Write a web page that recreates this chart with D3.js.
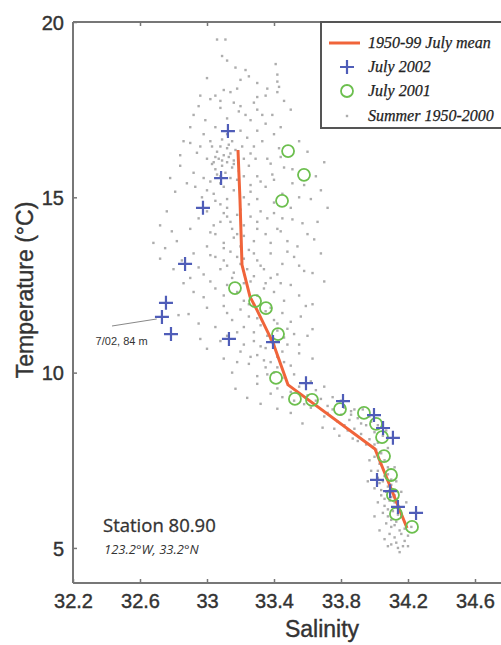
<!DOCTYPE html>
<html>
<head>
<meta charset="utf-8">
<title>Station 80.90 T-S</title>
<script src="https://cdn.jsdelivr.net/npm/d3@7"></script>
<style>
  body { margin: 0; background: #fff; }
  svg { display: block; }
</style>
</head>
<body>
<div id="chart"></div>
<script>
// 1950-99 July mean profile
var meanSal  = [33.185, 33.197, 33.209, 33.257, 33.298, 33.394, 33.484, 34.003, 34.194];
var meanTemp = [16.35, 14.92, 13.07, 12.16, 11.79, 10.85, 9.65, 7.82, 5.57];

// July 2002 casts (crosses)
var jul02Sal  = [33.125, 33.084, 32.976, 32.869, 32.755, 32.731, 32.785, 33.131, 33.394,
                 33.591, 33.812, 33.997, 34.051, 34.110, 34.015, 34.093, 34.140, 34.248];
var jul02Temp = [16.89, 15.55, 14.70, 13.10, 11.99, 11.59, 11.10, 10.96, 10.87,
                 9.70, 9.19, 8.79, 8.42, 8.14, 6.94, 6.62, 6.17, 6.00];

// July 2001 casts (circles)
var jul01Sal  = [33.484, 33.579, 33.448, 33.167, 33.287, 33.352, 33.424, 33.412, 33.525, 33.627,
                 33.794, 33.937, 34.009, 34.045, 34.057, 34.099, 34.110, 34.128, 34.224];
var jul01Temp = [16.32, 15.64, 14.90, 12.41, 12.04, 11.84, 11.10, 9.85, 9.25, 9.22,
                 8.96, 8.85, 8.54, 8.16, 7.62, 7.08, 6.51, 5.97, 5.60];

// summer 1950-2000 bottles [salinity, temperature]
var summer = [
  [33.06,19.5],[33.11,19.5],[33.09,19.03],[33.17,18.7],[33.23,18.63],[33.41,18.8],[33.42,18.5],
  [33.42,18.3],[33.43,18.15],[33.42,18.0],[33.30,18.26],[33.18,18.1],[33.10,18.06],[33.14,18.0],
  [33.05,17.9],[33.02,17.8],[32.95,17.6],[32.92,17.35],[32.90,17.0],[33.30,17.86],[33.35,17.9],
  [33.30,17.5],[33.39,17.35],[33.44,17.0],[33.23,17.35],[33.2,17.6],[33.16,17.7],[33.26,17.2],
  [33.35,17.1],[33.08,17.55],[33.12,17.25],[32.99,17.2],[33.2,18.35],[33.5,17.5],
  [33.12,18.9],[33.25,18.45],[33.0,18.4],[33.36,18.1],[33.08,17.75],[33.28,17.7],[33.46,17.75],
  [32.96,17.9],[33.19,17.45],[33.33,17.35],
  [33.24,16.7],[33.02,16.6],[33.08,16.45],[33.12,16.4],[33.06,16.3],[33.1,16.2],[33.14,16.25],
  [33.07,16.1],[33.12,16.0],[33.09,15.9],[33.15,15.85],[33.05,15.8],[33.11,15.7],[33.13,16.5],
  [33.17,16.35],[33.0,16.1],[32.84,16.2],[32.84,15.9],[32.94,16.27],[33.29,16.1],[33.36,16.1],
  [33.38,15.96],[33.30,15.6],[33.39,15.65],[33.51,15.8],[33.60,16.3],[32.81,15.16],[32.93,15.3],
  [33.26,15.16],[33.51,15.4],[33.2,16.9],[33.28,16.45],[33.33,16.6],[32.98,16.8],[33.05,17.0],
  [32.9,16.55],[33.18,15.5],[33.02,15.45],[33.1,15.3],[33.22,15.0],[33.35,15.3],[33.45,15.1],
  [32.97,15.0],[33.04,16.0],[33.16,16.05],[33.08,15.6],[33.19,15.75],[33.25,15.9],[33.43,16.4],
  [32.92,15.7],[33.0,15.2],[33.32,15.45],[33.55,15.0],[33.65,15.6],[33.46,15.85],
  [33.03,16.45],[33.09,16.65],[33.15,16.6],[33.21,16.45],[33.05,16.15],[33.13,16.15],[33.09,16.05],
  [33.03,15.95],[33.16,15.95],[33.06,15.65],[33.14,15.55],[33.22,15.6],[32.98,15.55],[33.08,15.4],
  [33.16,15.2],[33.26,15.35],[33.04,15.1],[33.12,14.95],[33.3,14.95],[33.4,15.5],[32.88,15.4],
  [32.86,16.6],[33.26,16.25],[33.22,16.1],[33.44,16.15],[33.4,16.8],[33.3,16.9],[33.12,16.8],
  [32.96,16.45],[33.55,16.6],[33.68,15.2],[33.72,14.7],[33.62,14.95],[33.7,16.0],[33.58,15.35],
  [32.76,14.6],[32.72,14.2],[32.68,13.7],[32.72,13.25],[32.78,15.55],
  [33.57,14.26],[33.64,13.8],[33.54,13.6],[33.63,12.84],[32.79,14.03],[32.75,13.55],[32.80,12.95],
  [32.86,12.55],[33.05,14.9],[33.12,14.7],[33.0,14.6],[33.18,14.5],[33.25,14.8],[33.32,14.6],
  [33.4,14.85],[33.45,14.4],[33.3,14.3],[33.08,14.3],[32.95,14.4],[32.9,14.1],[33.02,14.0],
  [33.15,14.1],[33.22,13.9],[33.35,13.95],[33.42,14.1],[33.48,13.75],[33.1,13.7],[33.0,13.6],
  [32.92,13.4],[33.05,13.3],[33.14,13.45],[33.25,13.5],[33.3,13.2],[33.38,13.4],[33.45,13.1],
  [33.2,13.1],[33.08,12.95],[32.98,12.8],[33.15,12.7],[33.28,12.75],[33.35,12.55],[33.42,12.8],
  [33.5,12.5],[32.92,12.3],[33.05,12.4],[33.18,12.3],[33.3,12.2],[33.4,12.3],[33.46,12.05],
  [33.55,12.2],[33.1,14.55],[33.14,14.3],[33.3,14.1],[33.36,14.4],[33.51,14.37],[33.44,14.03],
  [33.16,13.85],[33.05,13.95],[33.18,13.3],[33.12,13.05],[33.24,12.95],[33.34,12.95],[33.02,12.6],
  [33.12,12.5],[33.22,12.55],[32.85,13.2],[33.58,12.9],[33.52,13.3],[33.6,13.95],[32.95,13.0],
  [33.08,14.8],[33.2,14.65],[33.26,14.45],[33.12,14.45],[33.04,14.2],[33.22,14.2],[33.18,13.95],
  [33.28,13.75],[33.1,13.55],[33.2,13.6],[33.28,13.4],[33.02,13.35],[33.1,13.2],[33.22,13.25],
  [33.32,13.05],[33.16,12.85],[33.26,12.6],[33.38,12.7],[33.1,12.2],[33.22,12.05],[33.34,12.4],
  [33.44,12.55],[32.98,12.15],[32.9,12.7],[32.82,13.75],[33.38,13.7],[33.48,13.45],[33.55,13.05],
  [33.4,14.55],[33.5,14.7],[33.68,13.4],[33.7,12.6],[33.66,14.3],
  [33.63,11.95],[33.59,11.9],[33.63,11.24],[33.6,11.05],[33.63,10.4],[32.89,11.67],[32.83,11.64],
  [32.96,10.96],[33.0,10.68],[33.1,11.9],[33.2,11.8],[33.25,11.6],[33.35,11.75],[33.45,11.7],
  [33.5,11.45],[33.15,11.5],[33.05,11.3],[33.22,11.3],[33.32,11.35],[33.42,11.2],[33.52,11.1],
  [33.12,11.05],[33.28,10.9],[33.38,10.95],[33.48,10.8],[33.2,10.6],[33.3,10.5],[33.42,10.45],
  [33.55,10.55],[33.1,10.4],[33.25,10.25],[33.35,10.15],[33.5,10.2],[33.15,10.0],[33.3,9.9],
  [33.45,9.85],[33.0,11.85],[32.95,11.4],[33.28,11.95],[33.4,11.5],[33.18,11.15],[33.35,10.7],
  [33.45,10.6],[33.22,10.8],[33.56,11.6],[33.4,10.0],[33.38,10.3],
  [33.25,11.95],[33.3,11.55],[33.38,11.85],[33.42,11.4],[33.28,11.15],[33.36,11.05],[33.46,11.0],
  [33.32,10.75],[33.4,10.8],[33.26,10.45],[33.34,10.35],[33.46,10.3],[33.42,10.15],[33.36,9.95],
  [33.52,9.95],[33.55,10.8],[33.48,11.25],[33.12,11.7],[33.08,10.9],[33.18,10.3],
  [33.42,9.55],[33.5,9.45],[33.55,9.6],[33.6,9.35],[33.65,9.5],[33.52,9.2],[33.58,9.1],
  [33.68,9.25],[33.72,9.05],[33.45,9.3],[33.38,9.4],[33.32,9.11],[33.24,9.28],[33.17,9.54],
  [33.30,9.68],[33.42,8.97],[33.5,8.85],[33.57,8.55],[33.69,8.43],[33.79,8.2],[33.87,8.12],
  [33.75,8.95],[33.8,8.8],[33.85,8.65],[33.9,8.7],[33.95,8.5],[33.88,8.4],[33.92,8.25],
  [33.97,8.1],[34.0,8.3],[33.82,9.0],[33.78,8.6],[33.95,7.95],[34.02,8.0],[33.9,8.05],
  [34.05,8.2],[33.98,8.6],[33.62,9.0],[33.7,8.75],[33.86,8.9],[33.93,8.95],[33.84,8.35],
  [33.62,9.75],[33.7,9.6],[33.75,9.3],[33.65,9.2],[33.72,8.85],[33.8,9.2],[33.86,8.8],[33.92,8.55],
  [33.88,8.95],[33.97,8.75],[33.82,8.5],[33.76,8.4],[34.02,8.5],[34.07,8.35],[34.0,7.95],
  [34.0,7.6],[34.03,7.4],[34.06,7.5],[33.98,7.2],[34.02,7.0],[34.05,6.9],[34.08,7.1],[34.0,6.7],
  [34.04,6.5],[34.07,6.6],[34.1,6.8],[34.02,6.3],[34.06,6.2],[34.09,6.35],[34.12,6.5],[34.05,6.0],
  [34.08,5.9],[34.11,6.05],[34.14,6.2],[34.07,5.7],[34.1,5.6],[34.13,5.75],[34.16,5.9],[34.09,5.4],
  [34.12,5.3],[34.15,5.5],[34.18,5.2],[34.1,5.1],[34.14,5.0],[34.15,4.88],[34.2,5.35],[34.22,5.6],
  [33.96,6.9],[33.97,7.5],[34.12,7.3],[34.13,6.9],[34.0,5.9],[34.03,5.5],[34.06,5.25],[34.01,7.8],
  [34.04,7.7],[34.08,7.85],[34.16,6.6],[34.19,6.3],[34.1,5.8],[34.17,5.05],[34.08,5.05],
  [34.04,7.45],[34.08,7.3],[34.02,7.2],[34.06,7.05],[34.1,6.95],[34.03,6.85],[34.08,6.75],
  [34.04,6.65],[34.1,6.45],[34.06,6.4],[34.12,6.3],[34.08,6.1],[34.14,5.95],[34.12,5.65],
  [34.16,5.4],[34.13,5.15],[34.18,5.55],[34.2,5.05]
];

var xTicks = [32.2, 32.6, 33, 33.4, 33.8, 34.2, 34.6];
var yTicks = [5, 10, 15, 20];

var W = 501, H = 645;
var svg = d3.select("#chart").append("svg").attr("width", W).attr("height", H);

var x = d3.scaleLinear().domain([32.2, 34.8]).range([73, 508.5]);
var y = d3.scaleLinear().domain([4, 20]).range([583, 22]);

var axisCol = "#777", textCol = "#333";
var sans = "'Liberation Sans', Arial, sans-serif";

// summer dots
svg.append("g").selectAll("rect").data(summer).enter().append("rect")
  .attr("x", function(d) { return x(d[0]) - 1.2; })
  .attr("y", function(d) { return y(d[1]) - 1.2; })
  .attr("width", 2.4).attr("height", 2.4)
  .attr("fill", "#adadad");

// mean line
var line = d3.line().x(function(d) { return x(d[0]); }).y(function(d) { return y(d[1]); });
svg.append("path")
  .datum(meanSal.map(function(s, i) { return [s, meanTemp[i]]; }))
  .attr("d", line)
  .attr("fill", "none").attr("stroke", "#f0643a").attr("stroke-width", 3)
  .attr("stroke-linejoin", "round");

// July 2001 circles
svg.append("g").selectAll("circle").data(jul01Sal).enter().append("circle")
  .attr("cx", function(d) { return x(d); })
  .attr("cy", function(d, i) { return y(jul01Temp[i]); })
  .attr("r", 6)
  .attr("fill", "none").attr("stroke", "#6cbf4e").attr("stroke-width", 1.8);

// July 2002 crosses
var cross = "M-7,0H7M0,-7V7";
svg.append("g").selectAll("path").data(jul02Sal).enter().append("path")
  .attr("transform", function(d, i) { return "translate(" + x(d) + "," + y(jul02Temp[i]) + ")"; })
  .attr("d", cross)
  .attr("stroke", "#4f5db8").attr("stroke-width", 2.2);

// axes
var xAxis = svg.append("g").attr("transform", "translate(0,583)")
  .call(d3.axisBottom(x).tickValues(xTicks).tickSize(-4).tickPadding(15)
    .tickFormat(d3.format("")));
var xTop = svg.append("g").attr("transform", "translate(0,22)")
  .call(d3.axisTop(x).tickValues(xTicks.slice(1)).tickSize(-4).tickFormat(""));
var yAxis = svg.append("g").attr("transform", "translate(73,0)")
  .call(d3.axisLeft(y).tickValues(yTicks).tickSize(-4).tickPadding(9));

[xAxis, xTop, yAxis].forEach(function(g) {
  g.select(".domain").attr("stroke", axisCol).attr("stroke-width", 2);
  g.selectAll(".tick line").attr("stroke", axisCol).attr("stroke-width", 1.5);
  g.selectAll("text").attr("fill", textCol).attr("stroke", textCol).attr("stroke-width", 0.4)
    .style("font-family", sans).style("font-size", "20px");
});
yAxis.select(".domain").attr("d", "M0,583V22");
xAxis.select(".domain").attr("d", "M73,0H" + W);
xTop.select(".domain").attr("d", "M73,0H" + W);
xAxis.selectAll("text").attr("dy", "0.5em");
yAxis.selectAll("text").attr("dy", "0.36em");

// axis titles
svg.append("text").attr("x", 322).attr("y", 637).attr("text-anchor", "middle")
  .attr("fill", textCol).attr("stroke", textCol).attr("stroke-width", 0.4)
  .style("font-family", sans).style("font-size", "23px").text("Salinity");
svg.append("text").attr("transform", "translate(33,290) rotate(-90)").attr("text-anchor", "middle")
  .attr("fill", textCol).attr("stroke", textCol).attr("stroke-width", 0.4)
  .style("font-family", sans).style("font-size", "23px").text("Temperature (°C)");

// annotation for the 84 m cast
svg.append("line")
  .attr("x1", x(32.433)).attr("y1", y(11.33))
  .attr("x2", x(32.70)).attr("y2", y(11.53))
  .attr("stroke", "#888").attr("stroke-width", 1);
svg.append("text").attr("x", x(32.335)).attr("y", y(10.78))
  .attr("fill", "#333").style("font-family", sans)
  .style("font-size", "11px").text("7/02, 84 m");

// station label
svg.append("text").attr("x", 103).attr("y", 532)
  .attr("fill", "#333").attr("stroke", "#333").attr("stroke-width", 0.3)
  .style("font-family", "'Open Sans', sans-serif")
  .style("font-size", "18.5px").text("Station 80.90");
svg.append("text").attr("x", 104).attr("y", 554)
  .attr("fill", "#333").style("font-family", "'Open Sans', sans-serif")
  .style("font-style", "italic").style("font-size", "13px").text("123.2°W, 33.2°N");

// legend
var lg = svg.append("g");
lg.append("rect").attr("x", 321).attr("y", 22).attr("width", 200).attr("height", 106)
  .attr("fill", "#fff").attr("stroke", "#555").attr("stroke-width", 2);
var legFont = function(t) {
  return t.attr("fill", "#222").attr("stroke", "#222").attr("stroke-width", 0.25)
    .style("font-family", "'Liberation Serif', serif")
    .style("font-style", "italic").style("font-size", "16px");
};
lg.append("line").attr("x1", 329).attr("x2", 360).attr("y1", 43).attr("y2", 43)
  .attr("stroke", "#f0643a").attr("stroke-width", 3);
legFont(lg.append("text").attr("x", 368).attr("y", 48).text("1950-99 July mean"));
lg.append("path").attr("transform", "translate(347,67)").attr("d", cross)
  .attr("stroke", "#4f5db8").attr("stroke-width", 2.2);
legFont(lg.append("text").attr("x", 368).attr("y", 72).text("July 2002"));
lg.append("circle").attr("cx", 347).attr("cy", 91).attr("r", 6)
  .attr("fill", "none").attr("stroke", "#6cbf4e").attr("stroke-width", 1.8);
legFont(lg.append("text").attr("x", 368).attr("y", 96).text("July 2001"));
lg.append("rect").attr("x", 345.8).attr("y", 114.8).attr("width", 2.4).attr("height", 2.4)
  .attr("fill", "#adadad");
legFont(lg.append("text").attr("x", 368).attr("y", 121).text("Summer 1950-2000"));
</script>
</body>
</html>
